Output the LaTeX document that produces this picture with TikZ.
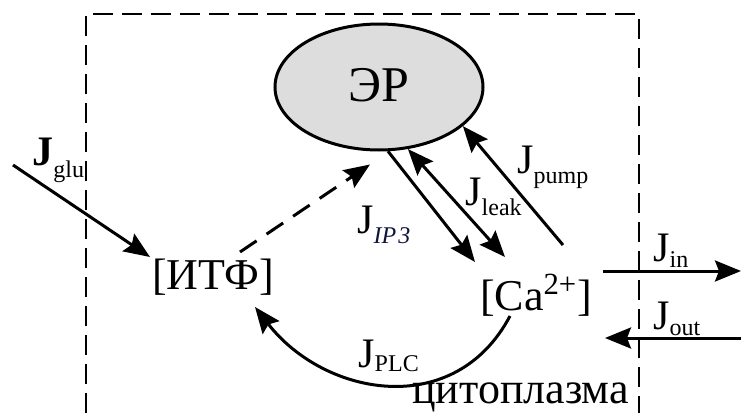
\documentclass[tikz,border=0pt]{standalone}
\usepackage{fontspec}
\setmainfont{Liberation Serif}
\usetikzlibrary{arrows.meta, shapes.geometric, calc}
\definecolor{ergray}{RGB}{221,221,221}
\definecolor{ipblue}{RGB}{15,20,60}
\newcommand{\Jflux}[2][5pt]{J\raisebox{-#1}{\fontsize{12}{12}\selectfont #2}}

\begin{document}
\begin{tikzpicture}[x=0.5pt, y=-0.5pt,
    % Styles
    organelle/.style={ellipse, draw, line width=1.5pt, fill=ergray, minimum width=104pt, minimum height=63pt, inner sep=0pt, font=\fontsize{25}{25}\selectfont},
    conc/.style={inner sep=0pt, anchor=base, font=\fontsize{22}{22}\selectfont},
    fluxlbl/.style={inner sep=0pt, anchor=base west, font=\fontsize{21}{21}\selectfont},
    arrow/.style={-{Stealth[length=13pt, width=10.5pt, inset=2pt]}, line width=1.5pt},
    duoarrow/.style={{Stealth[length=13pt, width=10.5pt, inset=2pt]}-{Stealth[length=13pt, width=10.5pt, inset=2pt]}, line width=1.5pt},
    dasharrow/.style={arrow, dash pattern=on 10pt off 6pt},
    membrane/.style={line width=1pt, dash pattern=on 10pt off 4.5pt},
]
\useasboundingbox (0,0) rectangle (741,413);

% === Cell boundary ===
\draw[membrane] (86,413) -- (86,14) -- (639,14) -- (639,413);

% === Compartments and concentrations ===
\node[organelle] (er) at (379,87) {\raisebox{2pt}{ЭР}};
\node[conc] (itf) at (213,289) {[ИТФ]};
\node[conc] (ca) at (536,310) {[Ca\textsuperscript{2+}]};

% free ends
\coordinate (glusrc) at (13,165);
\coordinate (inend) at (741,271);
\coordinate (outsrc) at (741,338);

% === Fluxes ===
\draw[arrow] (glusrc) -- ($(itf.base)+(-63,-32)$);
\draw[dasharrow] ($(itf.base)+(27,-37)$) -- ($(er.south)+(-9,13)$);
\draw[arrow] (er.-82) -- ($(ca.base)+(-61,-48)$);
\draw[duoarrow] (er.-65) -- ($(ca.base)+(-31,-53)$);
\draw[arrow] ($(ca.base)+(27,-65)$) -- (er.-25);
\draw[arrow] ($(ca.base)+(67,-39)$) -- (inend);
\draw[arrow] (outsrc) -- ($(ca.base)+(69,28)$);
\draw[arrow] ($(ca.base)+(-26,6)$) .. controls +(-55,104) and +(70,90) .. ($(itf.base)+(42,18)$);

% Flux labels
\node[fluxlbl] (lglu) at (32,165) {\textbf{J}\raisebox{-6pt}{\fontsize{12}{12}\selectfont glu}};
\node[fluxlbl] (lip3) at (357,233) {J\raisebox{-5pt}{\fontsize{12}{12}\selectfont\itshape\color{ipblue}IP\kern1pt3}};
\node[fluxlbl] (lleak) at (465,205) {\Jflux{leak}};
\node[fluxlbl] (lpump) at (517,173) {\Jflux{pump}};
\node[fluxlbl] (lin) at (653,261) {\Jflux[3pt]{in}};
\node[fluxlbl] (lout) at (653,329) {\Jflux[3pt]{out}};
\node[fluxlbl] (lplc) at (358,367) {\Jflux[2pt]{PLC}};
\node[inner sep=0pt, anchor=base west, font=\fontsize{22}{22}\selectfont] (cyto) at (412,403) {цитоплазма};

\end{tikzpicture}
\end{document}
